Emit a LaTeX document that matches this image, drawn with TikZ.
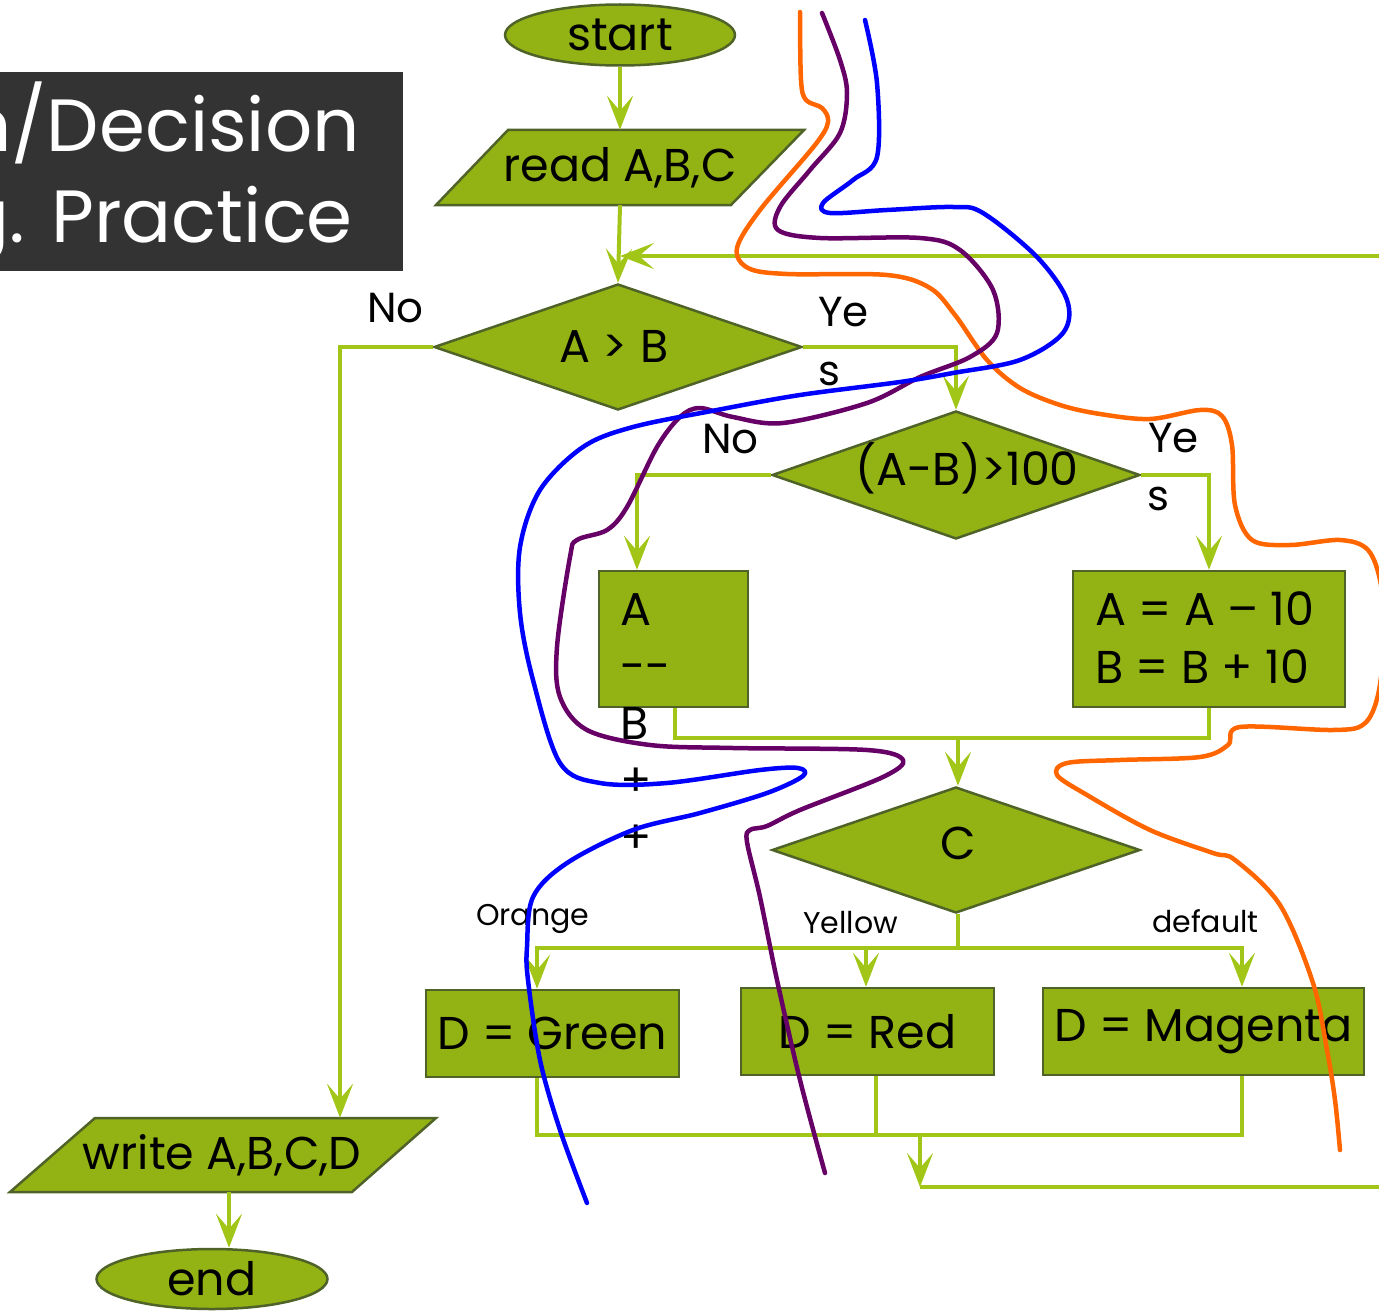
\documentclass[tikz,border=0pt]{standalone}
\usepackage{fontspec}
\setmainfont{Poppins}
\usetikzlibrary{arrows.meta,shapes.geometric}

\definecolor{boxfill}{HTML}{93B213}
\definecolor{boxline}{HTML}{4F6228}
\definecolor{flowgreen}{HTML}{A2C617}
\definecolor{titlebg}{HTML}{333333}
\definecolor{penorange}{HTML}{FF6600}
\definecolor{penpurple}{HTML}{660066}
\definecolor{penblue}{HTML}{0000FF}

\tikzset{
  flowline/.style={draw=flowgreen, line width=4pt},
  flowarrow/.style={flowline, -{Stealth[length=34pt,width=26pt,inset=15pt]}},
  shapeline/.style={draw=boxline, fill=boxfill, line width=2.5pt},
  bigtext/.style={font=\fontsize{46}{56}\selectfont},
  terminal/.style={shapeline, ellipse, inner sep=0pt, bigtext},
  decision/.style={shapeline, diamond, inner sep=0pt, minimum width=368pt, minimum height=127pt},
  process/.style={shapeline, rectangle, inner sep=0pt, bigtext},
  plaintext/.style={inner sep=0pt, bigtext},
  branchlabel/.style={inner sep=0pt, anchor=base west, font=\fontsize{42}{50}\selectfont},
  caselabel/.style={inner sep=0pt, anchor=base west, font=\fontsize{30}{36}\selectfont},
  titletext/.style={inner sep=0pt, anchor=base east, text=white, font=\fontsize{74}{88}\selectfont},
  pen/.style={line width=4.5pt, line cap=round, line join=round, smooth, tension=0.55},
}

\begin{document}
\begin{tikzpicture}[x=1pt,y=-1pt]
\useasboundingbox (0,0) rectangle (1379,1311);

% title panel, cut by the left page edge
\begin{scope}
  \clip (0,0) rectangle (1379,1311);
  \fill[titlebg] (-10,72) rectangle (403,271);
  \node[titletext] (titleA) at (360,152) {n/Decision};
  \node[titletext] (titleB) at (353,242) {g. Practice};
\end{scope}

% terminals
\node[terminal, minimum width=230pt, minimum height=61pt] (start) at (620,35) {start};
\node[terminal, minimum width=231pt, minimum height=60pt] (end) at (212,1279) {end};

% input / output parallelograms
\filldraw[shapeline] (508,130) -- (804,130) -- (731,205) -- (436,205) -- cycle;
\node[plaintext, minimum height=75pt] (read) at (620,167.5) {read A,B,C};
\filldraw[shapeline] (95,1118) -- (436,1118) -- (352,1192) -- (10,1192) -- cycle;
\node[plaintext, minimum height=74pt] (write) at (222,1155) {write A,B,C,D};

% decisions
\node[decision, minimum height=126pt] (ab) at (618,347) {};
\node[plaintext] (abtext) at (614,346) {A > B};
\node[decision, minimum height=128pt] (big) at (956,475) {};
\node[plaintext] (bigtext) at (967,468) {(A-B)>100};
\node[decision, minimum height=126pt] (cc) at (956,850) {};
\node[plaintext] (cctext) at (958,843) {C};

% process boxes
\node[process, minimum width=149pt, minimum height=136pt] (boxA) at (673.5,639) {};
\node[inner sep=0pt, anchor=north west, align=left, font=\fontsize{46}{57}\selectfont]
  (boxAtext) at (620,593) {A\\{-}{-}\\B\\+\\+};
\node[process, minimum width=272pt, minimum height=136pt] (boxB) at (1209,639) {};
\node[inner sep=0pt, anchor=north west, align=left, font=\fontsize{46}{58}\selectfont]
  (boxBtext) at (1095,592) {A = A – 10\\B = B + 10};
\node[process, minimum width=253pt, minimum height=87pt] (green) at (552.5,1033.5) {D = Green};
\node[process, minimum width=253pt, minimum height=87pt] (red) at (867.5,1031.5) {D = Red};
\node[process, minimum width=321pt, minimum height=87pt] (magenta) at (1203.5,1031.5) {D = Magenta};

% branch labels
\node[branchlabel] (noA) at (367,322) {No};
\node[branchlabel] (yesAa) at (818,326) {Ye};
\node[branchlabel] (yesAb) at (818,385) {s};
\node[branchlabel] (noB) at (702,453) {No};
\node[branchlabel] (yesBa) at (1148,452) {Ye};
\node[branchlabel] (yesBb) at (1147,510) {s};
\node[caselabel] (lblOrange) at (476,925) {Orange};
\node[caselabel] (lblYellow) at (803,933) {Yellow};
\node[caselabel] (lblDefault) at (1152,932) {default};

% helper points for the connectors
\coordinate (loopin) at (1385,256);
\coordinate (joinAB) at (958,738);
\coordinate (split) at (958,948);
\coordinate (collect) at (920,1135);
\coordinate (drop) at (920,1187);
\coordinate (exitR) at (1385,1187);

% connectors
\draw[flowarrow] (start.south) -- (read.north);
\draw[flowarrow] (read.south) -- (ab.north);
\draw[flowarrow] (loopin) -- ([xshift=2pt]ab.north |- loopin);
\draw[flowarrow] (ab.east) -| (big.north);
\draw[flowarrow] (ab.west) -| ([xshift=118pt]write.north);
\draw[flowarrow] (big.west) -| ([xshift=-36.5pt]boxA.north);
\draw[flowarrow] (big.east) -| (boxB.north);
\draw[flowline] ([xshift=1.5pt]boxA.south) |- (joinAB) -| (boxB.south);
\draw[flowarrow] (joinAB) -- ([xshift=2pt]cc.north);
\draw[flowline] ([xshift=2pt]cc.south) |- (split);
\draw[flowarrow] (split) -| ([xshift=-15.5pt]green.north);
\draw[flowarrow] (split) -| ([xshift=-1.5pt]red.north);
\draw[flowarrow] (split) -| ([xshift=38.5pt]magenta.north);
\draw[flowline] ([xshift=-15.5pt]green.south) |- ([xshift=38.5pt]magenta.south |- collect) -- ([xshift=38.5pt]magenta.south);
\draw[flowline] ([xshift=8.5pt]red.south) -- ([xshift=8.5pt]red.south |- collect);
\draw[flowarrow] (collect) -- (drop);
\draw[flowline] (drop) -- (exitR);
\draw[flowarrow] ([xshift=7pt]write.south) -- ([xshift=17pt]end.north);

% hand-drawn pen strokes over the chart
\draw[pen, penorange] plot coordinates {
  (800,12) (801,80) (806,100) (822,108) (828,122) (815,145) (760,210) (737,248)
  (748,268) (787,274) (887,275) (930,288) (955,315) (987,360) (1020,388)
  (1060,405) (1100,414) (1150,419) (1200,410) (1222,416) (1232,445) (1235,505)
  (1252,540) (1290,545) (1340,540) (1368,550) (1381,585) (1384,640) (1378,695)
  (1364,724) (1333,730) (1240,727) (1228,745) (1200,757) (1120,760) (1067,763)
  (1057,775) (1087,795) (1150,830) (1213,853) (1235,860) (1280,905) (1313,983)
  (1327,1050) (1335,1100) (1340,1150)};
\draw[pen, penpurple] plot coordinates {
  (822,13) (840,60) (847,93) (840,133) (810,170) (780,207) (778,230) (820,238)
  (920,238) (960,250) (993,290) (997,333) (970,357) (920,377) (867,403)
  (783,423) (733,417) (700,408) (680,417) (657,447) (627,507) (607,530)
  (577,540) (570,557) (557,647) (560,697) (587,730) (650,745) (733,748)
  (867,750) (903,760) (883,777) (800,810) (767,826) (750,830) (747,842)
  (760,897) (777,980) (800,1080) (825,1173)};
\draw[pen, penblue] plot coordinates {
  (865,20) (877,83) (877,157) (853,180) (823,203) (830,213) (887,210)
  (953,207) (983,213) (1037,257) (1067,300) (1063,333) (1020,360) (953,373)
  (900,382) (800,395) (717,410) (633,427) (583,447) (540,490) (520,547)
  (520,613) (533,680) (560,763) (600,783) (667,783) (760,770) (798,768)
  (803,776) (767,793) (700,813) (633,830) (567,863) (533,897) (527,947)
  (528,980) (540,1060) (560,1130) (587,1203)};
\end{tikzpicture}
\end{document}
